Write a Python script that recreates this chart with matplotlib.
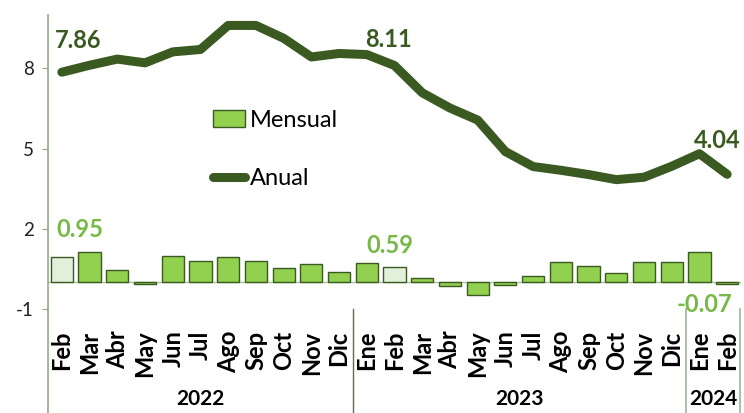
import numpy as np
import matplotlib
matplotlib.use("Agg")
import matplotlib.pyplot as plt
from matplotlib.patches import Patch
from matplotlib.lines import Line2D
from matplotlib.transforms import blended_transform_factory

plt.rcParams['font.family'] = ['Lato', 'DejaVu Sans']
plt.rcParams['axes.unicode_minus'] = False

# datos
meses = ["Feb", "Mar", "Abr", "May", "Jun", "Jul", "Ago", "Sep", "Oct", "Nov", "Dic",
         "Ene", "Feb", "Mar", "Abr", "May", "Jun", "Jul", "Ago", "Sep", "Oct", "Nov", "Dic",
         "Ene", "Feb"]
anual = [7.86, 8.12, 8.35, 8.21, 8.62, 8.71, 9.61, 9.61, 9.13, 8.43, 8.56, 8.52,
         8.11, 7.09, 6.52, 6.07, 4.89, 4.33, 4.19, 4.03, 3.84, 3.93, 4.34, 4.81, 4.04]
mensual = [0.95, 1.13, 0.46, -0.05, 1.00, 0.81, 0.96, 0.81, 0.55, 0.70, 0.40, 0.73,
           0.59, 0.17, -0.13, -0.49, -0.09, 0.24, 0.75, 0.62, 0.33, 0.75, 0.75, 1.12, -0.07]
resaltar = [0, 12]          # barras claras
etiq_anual = [0, 12, 24]
etiq_mensual = [0, 12, 24]
anios = ["2022", "2023", "2024"]
anio_rango = [(0, 10), (11, 22), (23, 24)]

verde_osc = "#3b5a22"
verde_bar = "#92d050"
verde_claro = "#e2efda"
verde_txt = "#76b947"
gris_eje = "#8fac85"

fig = plt.figure(figsize=(7.44, 4.13), dpi=100)
ax = fig.add_axes([48/744, 1 - 309/413, 693/744, 294/413])

x = np.arange(len(meses))
colores = [verde_claro if i in resaltar else verde_bar for i in x]
ax.bar(x, mensual, width=0.8, color=colores, edgecolor=verde_osc, linewidth=1.0, zorder=2)
ax.axhline(0, color="#a9c29c", linewidth=1.0, zorder=1)
ax.plot(x, anual, color=verde_osc, linewidth=6.5, solid_capstyle="round",
        solid_joinstyle="round", zorder=3)

ax.set_xlim(-0.5, len(meses) - 0.5)
ax.set_ylim(-1, 10)
ax.set_yticks([-1, 2, 5, 8])
ax.tick_params(axis="y", length=4, color=gris_eje, labelsize=13.5, labelcolor="#222222", pad=6)
ax.set_xticks(x)
ax.set_xticklabels(meses, rotation=90, fontsize=17, fontweight="bold")
ax.tick_params(axis="x", length=0, pad=15.5)
for s in ["top", "right", "bottom"]:
    ax.spines[s].set_visible(False)
ax.spines["left"].set_color(gris_eje)
ax.spines["left"].set_linewidth(1.2)

# lineas bajo el eje (eje izquierdo y separadores de anio)
tr = blended_transform_factory(ax.transData, ax.transAxes)
ax.plot([-0.5, -0.5], [0, -0.36], transform=tr, color=gris_eje, linewidth=1.2, clip_on=False)
ax.plot([10.5, 10.5], [0, -0.36], transform=tr, color="#4f7a3c", linewidth=1.0, clip_on=False)
ax.plot([22.5, 22.5], [0, -0.36], transform=tr, color="#9db598", linewidth=1.2, clip_on=False)
ax.plot([24.45, 24.45], [0, -0.36], transform=tr, color="#9db598", linewidth=1.2, clip_on=False)

for a, (i0, i1) in zip(anios, anio_rango):
    ax.text((i0 + i1) / 2, -0.328, a, transform=tr, ha="center", va="baseline",
            fontsize=15, fontweight="bold", color="black", clip_on=False)

# etiquetas de datos
off_anual = {0: (12, 17.5), 12: (-4, 13), 24: (-7, 19)}
for i in etiq_anual:
    ax.annotate(f"{anual[i]:.2f}", (i, anual[i]), xytext=off_anual[i], textcoords="offset points",
                ha="center", va="baseline", fontsize=17, fontweight="bold", color=verde_osc)
off_mens = {0: (13, 14), 12: (-3, 10), 24: (-16, -20)}
for i in etiq_mensual:
    ax.annotate(f"{mensual[i]:.2f}", (i, mensual[i]), xytext=off_mens[i], textcoords="offset points",
                ha="center", va="baseline", fontsize=17, fontweight="bold", color=verde_txt)

handles = [Patch(facecolor=verde_bar, edgecolor=verde_osc, linewidth=1.0, label="Mensual"),
           Line2D([0], [0], color=verde_osc, linewidth=6.5, solid_capstyle="round", label="Anual")]
ax.legend(handles=handles, loc="upper left", bbox_to_anchor=(0.225, 0.71), frameon=False,
          fontsize=17, handlelength=1.35, handletextpad=0.2, labelspacing=1.6,
          borderaxespad=0)

fig.savefig("out.png", dpi=100)
